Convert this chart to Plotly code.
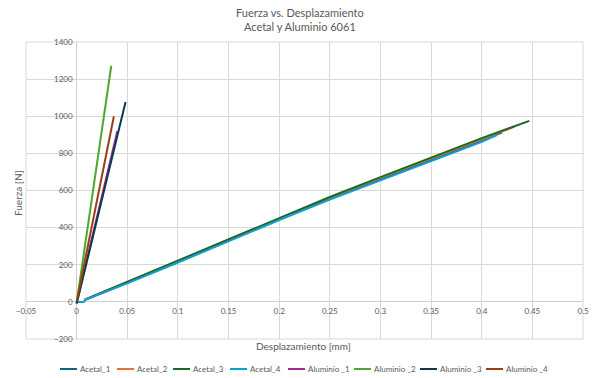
import plotly.graph_objects as go

# ---------------- data ----------------
series_names = ["Acetal_1", "Acetal_2", "Acetal_3", "Acetal_4",
                "Aluminio _1", "Aluminio _2", "Aluminio _3", "Aluminio _4"]
series_colors = ["#156082", "#E97132", "#196B24", "#0F9ED5",
                 "#A02B93", "#4EA72E", "#0D3A4E", "#994011"]

acetal_1_x = [0.008, 0.05, 0.1, 0.15, 0.2, 0.25, 0.3, 0.35, 0.4, 0.42]
acetal_1_y = [10, 103, 215, 330, 445, 555, 660, 765, 868, 912]
acetal_2_x = [0.008, 0.05, 0.1, 0.15, 0.2, 0.25, 0.3, 0.35, 0.4, 0.432]
acetal_2_y = [12, 106, 220, 336, 450, 562, 668, 773, 876, 943]
acetal_3_x = [0.008, 0.05, 0.1, 0.15, 0.2, 0.25, 0.3, 0.35, 0.4, 0.447]
acetal_3_y = [12, 108, 222, 338, 452, 565, 672, 778, 882, 975]
acetal_4_x = [0.0, 0.007, 0.009, 0.05, 0.1, 0.15, 0.2, 0.25, 0.3, 0.35, 0.4, 0.415]
acetal_4_y = [0, 0, 14, 100, 212, 327, 441, 551, 656, 760, 862, 898]

aluminio_1_x = [0.0, 0.0402]
aluminio_1_y = [-5, 920]
aluminio_2_x = [0.0, 0.0342]
aluminio_2_y = [-5, 1272]
aluminio_3_x = [0.0, 0.0483]
aluminio_3_y = [-10, 1077]
aluminio_4_x = [0.0, 0.0368]
aluminio_4_y = [0, 1000]

xs = [acetal_1_x, acetal_2_x, acetal_3_x, acetal_4_x,
      aluminio_1_x, aluminio_2_x, aluminio_3_x, aluminio_4_x]
ys = [acetal_1_y, acetal_2_y, acetal_3_y, acetal_4_y,
      aluminio_1_y, aluminio_2_y, aluminio_3_y, aluminio_4_y]

x_min, x_max, x_step = -0.05, 0.5, 0.05
y_min, y_max, y_step = -200, 1400, 200

# ---------------- figure ----------------
W, H = 594, 378
ML, MR, MT, MB = 26, 11, 42, 39
PW, PH = W - ML - MR, H - MT - MB
FONT = "Lato, 'Open Sans', sans-serif"
GRAY = "#595959"
GRID = "#d9d9d9"

fig = go.Figure()
for name, color, x, y in zip(series_names, series_colors, xs, ys):
    fig.add_trace(go.Scatter(x=x, y=y, mode="lines", name=name,
                             line=dict(color=color, width=2),
                             showlegend=False, cliponaxis=False))

def px2paper_x(px):
    return (px - ML) / PW

def px2paper_y(py):
    return (H - MB - py) / PH

fig.update_layout(
    width=W, height=H,
    margin=dict(l=ML, r=MR, t=MT, b=MB, autoexpand=False),
    paper_bgcolor="white", plot_bgcolor="white",
    font=dict(family=FONT, color=GRAY, size=8),
    xaxis=dict(range=[x_min, x_max], dtick=x_step, tick0=0,
               showgrid=True, gridcolor=GRID, gridwidth=1,
               zeroline=True, zerolinecolor="#cfcfcf", zerolinewidth=1,
               showline=False, ticks="", automargin=False,
               anchor="free", position=(0 - y_min) / (y_max - y_min),
               tickfont=dict(size=8, color=GRAY), ticklabelstandoff=3,
               tickformat="~g"),
    yaxis=dict(range=[y_min, y_max], dtick=y_step, tick0=0,
               showgrid=True, gridcolor=GRID, gridwidth=1,
               zeroline=True, zerolinecolor="#cfcfcf", zerolinewidth=1,
               showline=False, ticks="", automargin=False,
               anchor="free", position=(0 - x_min) / (x_max - x_min),
               tickfont=dict(size=8, color=GRAY), ticklabelstandoff=4),
    showlegend=False,
)

# plot-area frame (edge gridlines)
fig.add_shape(type="rect", xref="paper", yref="paper", x0=0, x1=1, y0=0, y1=1,
              line=dict(color=GRID, width=1), layer="below")

# titles
fig.add_annotation(text="Fuerza vs. Desplazamiento<br>Acetal y Aluminio 6061",
                   xref="paper", yref="paper",
                   x=px2paper_x(300), y=px2paper_y(20), xanchor="center", yanchor="middle",
                   showarrow=False, font=dict(size=11, color=GRAY, family=FONT))
fig.add_annotation(text="Desplazamiento [mm]", xref="paper", yref="paper",
                   x=px2paper_x(303), y=px2paper_y(346), xanchor="center", yanchor="middle",
                   showarrow=False, font=dict(size=10, color=GRAY, family=FONT))
fig.add_annotation(text="Fuerza [N]", xref="paper", yref="paper",
                   x=px2paper_x(18), y=px2paper_y(193), xanchor="center", yanchor="middle",
                   textangle=-90, showarrow=False, font=dict(size=10, color=GRAY, family=FONT))

# manual legend (single row, Excel style)
legend_px = [60, 117, 173, 230, 288, 354, 420, 486]
ly = 369
for name, color, lx in zip(series_names, series_colors, legend_px):
    fig.add_shape(type="line", xref="paper", yref="paper",
                  x0=px2paper_x(lx), x1=px2paper_x(lx + 17),
                  y0=px2paper_y(ly), y1=px2paper_y(ly),
                  line=dict(color=color, width=2))
    fig.add_annotation(text=name, xref="paper", yref="paper",
                       x=px2paper_x(lx + 18), y=px2paper_y(ly),
                       xanchor="left", yanchor="middle", showarrow=False,
                       font=dict(size=8, color=GRAY, family=FONT))

fig.write_html("out.html",
               config={"displayModeBar": False},
               post_script="document.body.style.margin='0';document.body.style.overflow='hidden';")
